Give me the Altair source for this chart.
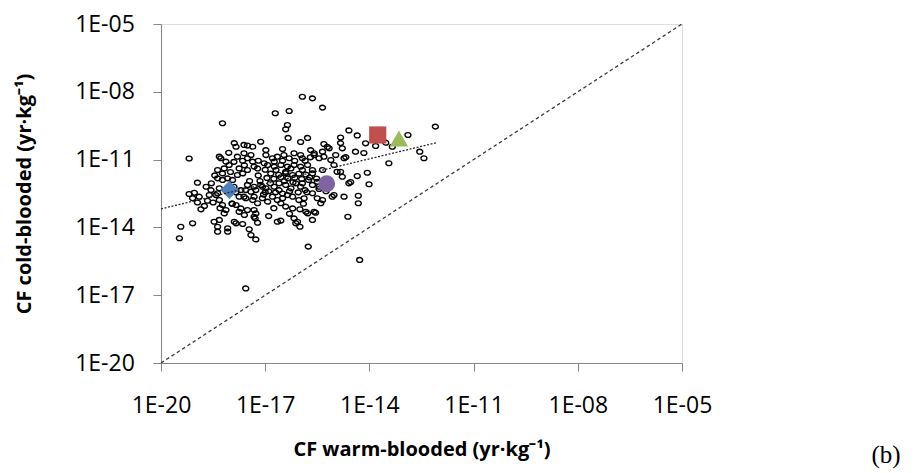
import altair as alt
import numpy as np
import pandas as pd

# ---- data (log10 values) ----
warm_exp = [
    -15.93, -15.64, -15.35, -16.71, -16.31, -18.23, -16.36, -16.41, -16.34, -12.10,
    -14.59, -14.35, -12.89, -17.89, -17.51, -17.13, -15.98, -15.78, -14.83, -14.83,
    -15.31, -15.21, -19.19, -18.95, -14.11, -13.82, -13.53, -13.34, -14.40, -14.16,
    -14.68, -12.55, -12.43, -13.44, -14.06, -14.35, -14.54, -14.01, -14.73, -15.02,
    -14.32, -14.32, -14.59, -19.19, -19.04, -19.43, -19.47, -19.09, -18.47, -18.32,
    -18.37, -18.08, -17.84, -17.65, -17.46, -17.41, -17.27, -17.29, -17.22, -16.65,
    -16.17, -16.12, -16.00, -15.64, -15.78, -15.55, -15.76, -14.62, -14.28, -17.56,
    -14.78, -15.69, -15.59, -14.97, -18.61, -18.66, -18.37, -18.32, -18.23, -18.13,
    -18.18, -17.75, -17.70, -17.84, -17.70, -17.75, -17.51, -17.41, -17.32, -17.13,
    -16.98, -17.56, -17.36, -17.22, -17.08, -16.93, -17.51, -17.32, -17.27, -16.74,
    -16.60, -16.41, -16.26, -16.12, -15.98, -16.79, -16.65, -16.50, -16.36, -16.21,
    -16.03, -15.88, -16.55, -16.41, -16.21, -15.93, -15.64, -15.50, -15.64, -15.50,
    -15.40, -15.35, -15.83, -15.59, -18.37, -18.08, -17.89, -17.32, -16.55, -16.07,
    -15.07, -19.09, -18.90, -17.84, -17.61, -17.36, -15.16, -18.28, -18.13, -18.18,
    -18.37, -18.23, -17.61, -17.51, -17.41, -17.36, -17.75, -17.65, -17.51, -17.32,
    -16.98, -16.79, -16.65, -16.46, -16.31, -16.17, -15.98, -16.93, -16.74, -16.55,
    -16.36, -16.17, -15.98, -15.78, -16.84, -16.61, -16.41, -16.21, -16.03, -15.83,
    -15.64, -15.59, -15.45, -15.35, -15.11, -15.02, -14.83, -14.73, -18.08, -17.94,
    -17.80, -17.65, -17.80, -17.22, -18.37, -18.23, -18.56, -18.42, -18.32, -17.56,
    -17.27, -17.08, -17.61, -17.32, -18.04, -18.32, -16.98, -16.50, -15.93, -15.31,
    -16.74, -17.03, -16.69, -16.41, -16.26, -15.93, -15.64, -15.35, -14.93, -14.78,
    -16.95, -16.75, -16.55, -16.35, -16.15, -15.95, -15.72, -15.52, -17.00, -16.85,
    -16.50, -16.70, -18.50, -18.75, -17.95, -16.30, -15.80, -15.45,
    -18.70, -18.55, -18.45, -18.00, -17.90, -17.85, -17.45, -17.20, -17.15, -17.05,
    -16.90, -16.60, -16.45, -16.20, -16.05, -15.85, -15.75, -15.45, -15.25, -17.20,
    -17.00, -16.50, -16.15, -15.85, -15.70, -17.60, -17.90, -18.05, -17.95, -18.30,
    -17.60, -16.90, -16.75, -16.30, -16.00, -15.90, -18.85, -18.95,
]
cold_exp = [
    -8.22, -8.29, -8.70, -8.95, -8.85, -9.39, -9.47, -9.66, -10.04, -9.54,
    -9.71, -9.93, -9.91, -10.27, -10.38, -10.21, -10.22, -10.04, -10.02, -10.27,
    -10.31, -10.44, -10.95, -12.02, -10.28, -10.40, -10.25, -10.43, -10.65, -10.71,
    -10.89, -10.65, -10.94, -11.16, -11.58, -11.73, -11.99, -12.09, -12.64, -12.57,
    -12.60, -12.93, -12.05, -12.52, -12.47, -13.97, -14.48, -13.82, -13.75, -13.67,
    -14.19, -14.19, -13.82, -13.85, -14.08, -14.34, -14.53, -13.60, -13.79, -13.75,
    -13.60, -13.82, -13.97, -13.67, -13.38, -13.35, -14.85, -13.53, -15.44, -16.70,
    -10.50, -10.58, -10.72, -10.80, -12.57, -12.82, -12.49, -12.79, -13.01, -13.23,
    -13.38, -12.64, -12.35, -13.01, -13.16, -13.31, -12.12, -12.42, -12.20, -12.12,
    -12.27, -12.71, -12.79, -12.93, -12.71, -12.86, -13.23, -13.23, -13.38, -12.20,
    -12.35, -12.12, -12.27, -12.05, -12.20, -12.64, -12.79, -12.71, -12.57, -12.64,
    -12.79, -12.71, -12.93, -13.08, -13.16, -12.05, -12.12, -11.98, -12.49, -12.71,
    -12.93, -12.79, -13.31, -13.31, -13.97, -14.04, -13.75, -13.53, -13.70, -13.75,
    -12.64, -12.71, -12.64, -10.43, -10.35, -10.43, -10.50, -10.94, -11.09, -11.39,
    -11.46, -11.61, -10.72, -10.94, -10.80, -11.09, -11.39, -11.61, -11.46, -11.31,
    -10.80, -10.94, -10.87, -10.80, -10.94, -10.72, -10.80, -11.24, -11.31, -11.24,
    -11.31, -11.24, -11.31, -11.24, -11.62, -11.67, -11.60, -11.68, -11.63, -11.66,
    -11.61, -10.80, -10.94, -10.65, -11.02, -11.24, -11.54, -10.94, -11.83, -11.90,
    -10.87, -11.05, -11.68, -11.39, -11.83, -11.90, -12.35, -12.57, -12.27, -12.35,
    -12.35, -12.20, -12.64, -12.64, -11.24, -10.87, -10.58, -10.53, -10.94, -10.87,
    -11.09, -11.16, -11.46, -11.54, -11.39, -11.46, -11.46, -11.46, -11.54, -11.76,
    -11.81, -11.85, -11.78, -11.83, -11.80, -11.86, -11.79, -11.84, -12.45, -12.05,
    -12.50, -12.45, -12.90, -13.05, -12.95, -12.40, -12.45, -12.30,
    -12.20, -12.05, -11.70, -11.55, -12.20, -12.45, -11.95, -11.70, -11.95, -12.55,
    -12.40, -12.05, -11.95, -12.00, -12.45, -12.35, -11.90, -12.20, -12.40, -11.05,
    -11.45, -11.05, -11.05, -11.05, -10.90, -11.25, -11.10, -10.70, -12.95, -13.15,
    -13.45, -13.50, -13.15, -13.40, -13.20, -12.95, -13.20, -12.90,
]

# highlighted species (log10 warm, log10 cold)
hl_names = ["blue", "purple", "red", "green"]
hl_warm_exp = [-18.03, -15.23, -13.76, -13.15]
hl_cold_exp = [-12.34, -12.07, -9.91, -10.07]
hl_shapes = ["diamond", "circle", "square", "triangle-up"]
hl_colors = ["#4F81BD", "#8064A2", "#C0504D", "#9BBB59"]
hl_sizes = [340, 285, 295, 340]

# trend line end points (log10) and 1:1 line
trend_warm_exp = [-20.0, -12.06]
trend_cold_exp = [-13.18, -10.25]
one_to_one_exp = [-20.0, -5.0]

tick_exp = [-20, -17, -14, -11, -8, -5]
tick_labels = ["1E-20", "1E-17", "1E-14", "1E-11", "1E-08", "1E-05"]

x_title = "CF warm-blooded (yr·kg⁻¹)"
y_title = "CF cold-blooded (yr·kg⁻¹)"
panel_label = "(b)"

# ---- build ----
W, H = 521, 339
FONT = "Open Sans"
tick_vals = [10.0 ** e for e in tick_exp]
label_expr = "[" + ",".join("'%s'" % t for t in tick_labels) + "][round((log(datum.value)/LN10 + 20)/3)]"

xscale = alt.Scale(type="log", domain=[1e-20, 1e-5], nice=False)
yscale = alt.Scale(type="log", domain=[1e-20, 1e-5], nice=False)

common_axis = dict(
    values=tick_vals, labelExpr=label_expr, grid=False,
    domainColor="#868686", tickColor="#868686", tickSize=8,
    labelFont=FONT, labelFontSize=23, labelColor="#000000",
    labelOverlap=False, labelFlush=False, labelBound=False,
    titleFont=FONT, titleFontSize=20, titleFontWeight="bold", titleColor="#000000",
)
x_axis = alt.Axis(title=x_title, labelPadding=41, labelBaseline="alphabetic",
                  titleBaseline="alphabetic", titleX=W / 2, titleY=92.7, **common_axis)
y_axis = alt.Axis(title=y_title, labelPadding=18.7, titleAngle=-90,
                  titleBaseline="alphabetic", titleX=-131, titleY=H / 2, **common_axis)

df_pts = pd.DataFrame({"warm": 10.0 ** np.array(warm_exp), "cold": 10.0 ** np.array(cold_exp)})

ellipse = "M-1,0A1,0.8,0,1,0,1,0A1,0.8,0,1,0,-1,0Z"
points = alt.Chart(df_pts).mark_point(
    shape=ellipse, filled=False, size=36, color="black", strokeWidth=1.35, opacity=1
).encode(
    x=alt.X("warm:Q", scale=xscale, axis=x_axis),
    y=alt.Y("cold:Q", scale=yscale, axis=y_axis),
)

df_11 = pd.DataFrame({"warm": [10.0 ** e for e in one_to_one_exp],
                      "cold": [10.0 ** e for e in one_to_one_exp]})
line11 = alt.Chart(df_11).mark_line(color="#3a3a3a", strokeWidth=1.3, strokeDash=[3.5, 2.8]).encode(
    x=alt.X("warm:Q", scale=xscale), y=alt.Y("cold:Q", scale=yscale))

hl_layers = []
for n, wx, cy, shp, col, sz in zip(hl_names, hl_warm_exp, hl_cold_exp, hl_shapes, hl_colors, hl_sizes):
    d = pd.DataFrame({"warm": [10.0 ** wx], "cold": [10.0 ** cy], "name": [n]})
    hl_layers.append(
        alt.Chart(d).mark_point(shape=shp, filled=True, color=col, size=sz, opacity=1, strokeWidth=0).encode(
            x=alt.X("warm:Q", scale=xscale), y=alt.Y("cold:Q", scale=yscale))
    )

df_tr = pd.DataFrame({"warm": [10.0 ** e for e in trend_warm_exp],
                      "cold": [10.0 ** e for e in trend_cold_exp]})
trend = alt.Chart(df_tr).mark_line(color="#2a2a2a", strokeWidth=1.3, strokeDash=[2, 1.6]).encode(
    x=alt.X("warm:Q", scale=xscale), y=alt.Y("cold:Q", scale=yscale))

lbl = alt.Chart(pd.DataFrame({"t": [panel_label]})).mark_text(
    font="Liberation Serif", fontSize=25, align="center", baseline="alphabetic", color="black"
).encode(text="t:N", x=alt.value(725), y=alt.value(439))

chart = alt.layer(line11, points, *hl_layers, trend, lbl).properties(
    width=W, height=H,
    autosize=alt.AutoSizeParams(type="none"),
    padding={"left": 153, "top": 16, "right": 224, "bottom": 108},
).configure_view(stroke=None).configure(background="white")

chart.save("out.html", embed_options={"renderer": "svg", "actions": False})
